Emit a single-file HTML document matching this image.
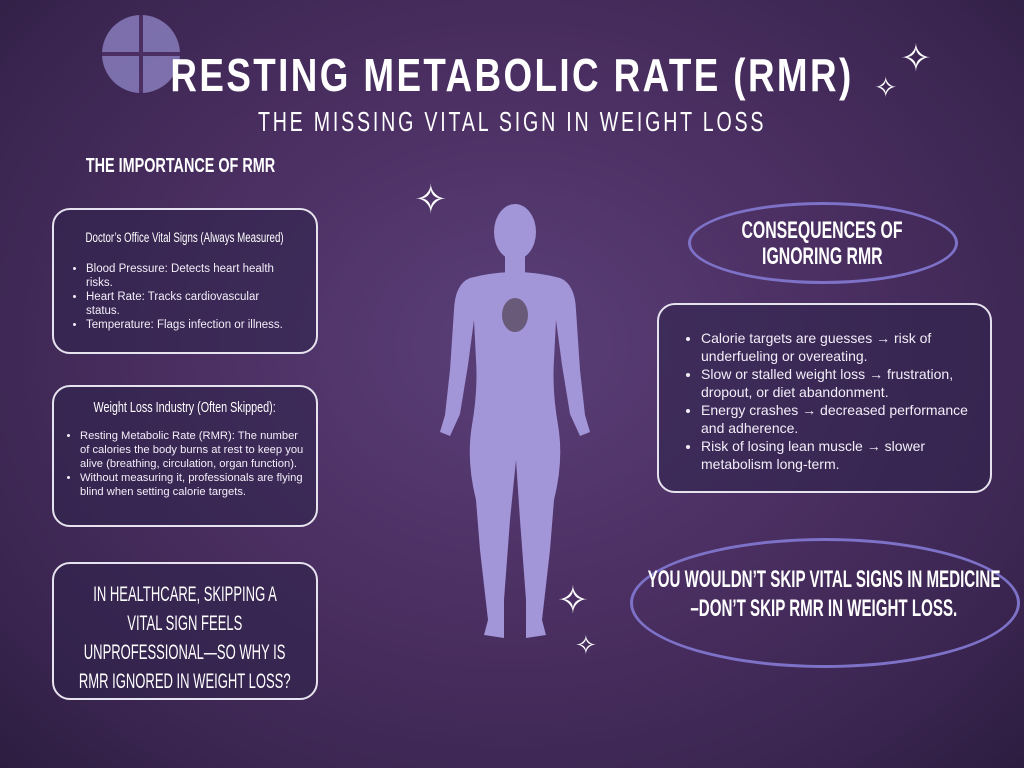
<!DOCTYPE html>
<html><head><meta charset="utf-8"><style>
*{margin:0;padding:0;box-sizing:border-box}
body{width:1024px;height:768px;overflow:hidden;position:relative;font-family:"Liberation Sans",sans-serif;color:#fff;
background:radial-gradient(ellipse at 50% 45%,#5a3f78 0%,#4b2f62 45%,#3a2550 80%,#2c1d40 100%);}
.n{position:absolute;text-align:center;color:#fff;white-space:nowrap;font-weight:bold}
.n span{display:inline-block}
.box{position:absolute;border:2px solid #e6e2ee;border-radius:18px;background:rgba(45,35,75,.55)}
.box ul{padding-left:18px;color:#f2eef8}
.ov{position:absolute;border:3px solid #7d72c8;border-radius:50%}
.sp{position:absolute;color:#fff;line-height:1}
</style></head><body>
<div style="position:absolute;left:102px;top:15px;width:78px;height:78px;border-radius:50%;background:#8c82c2;opacity:.8"></div>
<div style="position:absolute;left:139px;top:15px;width:4px;height:78px;background:#4b2f62"></div>
<div style="position:absolute;left:102px;top:52px;width:78px;height:4px;background:#4b2f62"></div>
<div class="n" style="left:0;width:1024px;top:50px;font-size:46px;line-height:50px"><span style="transform:scaleX(.8);letter-spacing:3px">RESTING METABOLIC RATE (RMR)</span></div>
<div class="n" style="left:0;width:1024px;top:106px;font-size:28px;font-weight:normal;line-height:32px"><span style="transform:scaleX(.7);letter-spacing:4px">THE MISSING VITAL SIGN IN WEIGHT LOSS</span></div>
<div class="n" style="left:-70px;width:500px;top:154px;font-size:20px;line-height:24px"><span style="transform:scaleX(.72)">THE IMPORTANCE OF RMR</span></div>
<div class="sp" style="left:900px;top:40px;font-size:38px">✧</div>
<div class="sp" style="left:874px;top:74px;font-size:28px">✧</div>
<div class="sp" style="left:414px;top:180px;font-size:40px">✧</div>
<div class="sp" style="left:557px;top:582px;font-size:38px">✧</div>
<div class="sp" style="left:575px;top:632px;font-size:26px">✧</div>

<div class="box" style="left:52px;top:208px;width:266px;height:146px;padding:52px 10px 0 14px">
<ul style="font-size:11.5px;line-height:14px;width:215px"><li>Blood Pressure: Detects heart health risks.</li><li>Heart Rate: Tracks cardiovascular status.</li><li>Temperature: Flags infection or illness.</li></ul></div>
<div class="n" style="left:-65px;width:500px;top:230px;font-size:13.5px;font-weight:normal"><span style="transform:scaleX(.72)">Doctor’s Office Vital Signs (Always Measured)</span></div>
<div class="box" style="left:52px;top:385px;width:266px;height:142px;padding:42px 6px 0 8px">
<ul style="font-size:11.2px;line-height:14px"><li>Resting Metabolic Rate (RMR): The number of calories the body burns at rest to keep you alive (breathing, circulation, organ function).</li><li>Without measuring it, professionals are flying blind when setting calorie targets.</li></ul></div>
<div class="n" style="left:-65px;width:500px;top:399px;font-size:15px;font-weight:normal"><span style="transform:scaleX(.72)">Weight Loss Industry (Often Skipped):</span></div>
<div class="box" style="left:52px;top:562px;width:266px;height:138px"></div>
<div class="n" style="left:-65px;width:500px;top:580px;font-size:21px;font-weight:normal;line-height:29px"><span style="transform:scaleX(.62)">IN HEALTHCARE, SKIPPING A</span><br><span style="transform:scaleX(.62)">VITAL SIGN FEELS</span><br><span style="transform:scaleX(.62)">UNPROFESSIONAL—SO WHY IS</span><br><span style="transform:scaleX(.62)">RMR IGNORED IN WEIGHT LOSS?</span></div>

<div class="ov" style="left:688px;top:202px;width:270px;height:82px"></div>
<div class="n" style="left:572px;width:500px;top:218px;font-size:24px;line-height:26px"><span style="transform:scaleX(.66)">CONSEQUENCES OF</span><br><span style="transform:scaleX(.66)">IGNORING RMR</span></div>
<div class="box" style="left:657px;top:303px;width:335px;height:190px;padding:24px 20px 0 24px">
<ul style="font-size:14px;line-height:18px;width:285px"><li>Calorie targets are guesses → risk of underfueling or overeating.</li><li>Slow or stalled weight loss → frustration, dropout, or diet abandonment.</li><li>Energy crashes → decreased performance and adherence.</li><li>Risk of losing lean muscle → slower metabolism long-term.</li></ul></div>
<div class="ov" style="left:630px;top:538px;width:390px;height:130px"></div>
<div class="n" style="left:474px;width:700px;top:565px;font-size:24px;line-height:29px"><span style="transform:scaleX(.63)">YOU WOULDN’T SKIP VITAL SIGNS IN MEDICINE</span><br><span style="transform:scaleX(.63)">–DON’T SKIP RMR IN WEIGHT LOSS.</span></div>

<svg style="position:absolute;left:430px;top:200px" width="170" height="445" viewBox="0 0 170 445">
<g fill="#a295d8">
<ellipse cx="85" cy="32" rx="21" ry="28"/>
<rect x="75" y="52" width="20" height="22"/>
<path d="M40 78 Q85 66 130 78 Q145 84 146 110 L150 170 L155 215 L160 232 L150 236 L140 214 L132 165 L126 120 L124 160 Q122 190 128 225 Q134 260 124 300 L120 350 L112 420 L116 435 L96 438 L96 400 L90 320 L86 260 L80 320 L74 400 L74 438 L54 435 L58 420 L50 350 L46 300 Q36 260 42 225 Q48 190 46 160 L44 120 L38 165 L30 214 L20 236 L10 232 L15 215 L20 170 L24 110 Q25 84 40 78Z"/>
</g>
<ellipse cx="85" cy="115" rx="13" ry="17" fill="#6a5a7a"/>
</svg>
</body></html>
